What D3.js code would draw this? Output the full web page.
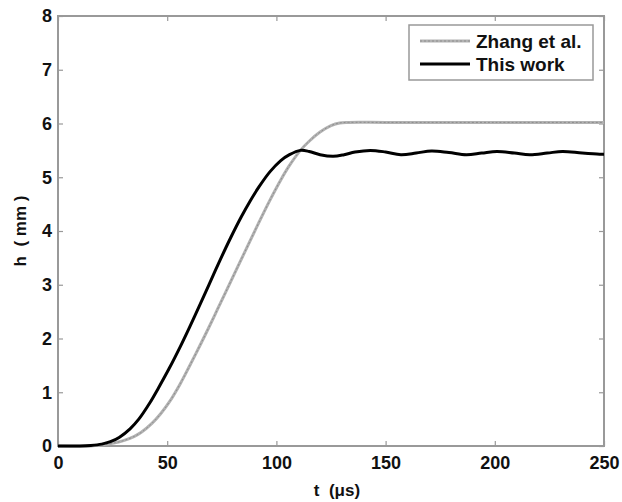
<!DOCTYPE html>
<html>
<head>
<meta charset="utf-8">
<script src="https://cdn.jsdelivr.net/npm/d3@7"></script>
<style>
  body { margin: 0; background: #fff; }
  svg { display: block; font-family: "Liberation Sans", Arial, sans-serif; font-weight: bold; }
</style>
</head>
<body>
<svg id="chart" width="622" height="502"></svg>
<script>
// Time (µs) and height (mm) for the two series
const zhangT = [0, 15, 20, 25, 30, 35, 38, 43, 47, 51, 56, 60, 65, 69, 73, 77, 82, 88, 92, 97, 102, 106, 111, 115, 120, 125, 129, 133, 150, 200, 250];
const zhangH = [0, 0, 0.02, 0.05, 0.1, 0.18, 0.25, 0.42, 0.6, 0.82, 1.16, 1.47, 1.87, 2.2, 2.54, 2.88, 3.31, 3.82, 4.16, 4.57, 4.95, 5.22, 5.5, 5.67, 5.84, 5.96, 6.01, 6.02, 6.02, 6.02, 6.02];

const workT = [0, 10, 15, 20, 24, 28, 33, 37, 42, 46, 51, 56, 60, 65, 69, 74, 79, 84, 88, 92, 97, 102, 106, 111, 115, 120, 126, 131, 136, 143, 150, 157, 164, 171, 179, 187, 194, 201, 209, 216, 224, 231, 240, 248, 250];
const workH = [0, 0, 0.01, 0.035, 0.08, 0.16, 0.32, 0.5, 0.8, 1.08, 1.45, 1.85, 2.19, 2.63, 2.99, 3.44, 3.87, 4.27, 4.56, 4.82, 5.1, 5.31, 5.42, 5.5, 5.48, 5.42, 5.39, 5.42, 5.47, 5.5, 5.47, 5.42, 5.45, 5.49, 5.46, 5.42, 5.45, 5.48, 5.45, 5.42, 5.45, 5.48, 5.45, 5.43, 5.43];

const xTicks = [0, 50, 100, 150, 200, 250];
const yTicks = [0, 1, 2, 3, 4, 5, 6, 7, 8];
const seriesNames = ["Zhang et al.", "This work"];

const svg = d3.select("#chart");
const plotLeft = 58, plotRight = 604, plotTop = 16, plotBottom = 446;

const x = d3.scaleLinear().domain([0, 250]).range([plotLeft, plotRight]);
const y = d3.scaleLinear().domain([0, 8]).range([plotBottom, plotTop]);

const axisColor = "#999";
const textColor = "#111";
const tickLen = 5;

// Frame
svg.append("rect")
  .attr("x", plotLeft).attr("y", plotTop)
  .attr("width", plotRight - plotLeft).attr("height", plotBottom - plotTop)
  .attr("fill", "none").attr("stroke", axisColor).attr("stroke-width", 2);

function styleAxis(g) {
  g.select(".domain").remove();
  g.selectAll(".tick line").attr("stroke", axisColor).attr("stroke-width", 1.2);
  g.selectAll(".tick text").attr("fill", textColor).attr("font-size", 18).attr("font-weight", "bold");
}

// Bottom axis (inward ticks)
svg.append("g").attr("transform", `translate(0,${plotBottom})`)
  .call(d3.axisBottom(x).tickValues(xTicks).tickSize(-tickLen).tickPadding(10))
  .call(styleAxis);

// Top axis ticks
svg.append("g").attr("transform", `translate(0,${plotTop})`)
  .call(d3.axisTop(x).tickValues(xTicks).tickSize(-tickLen).tickFormat(""))
  .call(styleAxis);

// Left axis
svg.append("g").attr("transform", `translate(${plotLeft},0)`)
  .call(d3.axisLeft(y).tickValues(yTicks).tickSize(-tickLen).tickPadding(6))
  .call(styleAxis);

// Right axis ticks
svg.append("g").attr("transform", `translate(${plotRight},0)`)
  .call(d3.axisRight(y).tickValues(yTicks).tickSize(-tickLen).tickFormat(""))
  .call(styleAxis);

// Curves
const line = d3.line()
  .x(d => x(d[0]))
  .y(d => y(d[1]))
  .curve(d3.curveCatmullRom.alpha(0.5));

const zhang = zhangT.map((t, i) => [t, zhangH[i]]);
const work = workT.map((t, i) => [t, workH[i]]);

// Zhang et al.: light gray line with a fine darker dash running through it
svg.append("path").datum(zhang)
  .attr("d", line).attr("fill", "none")
  .attr("stroke", "#b2b2b2").attr("stroke-width", 3);
svg.append("path").datum(zhang)
  .attr("d", line).attr("fill", "none")
  .attr("stroke", "#8e8e8e").attr("stroke-width", 1)
  .attr("stroke-dasharray", "2,2");

svg.append("path").datum(work)
  .attr("d", line).attr("fill", "none")
  .attr("stroke", "#000").attr("stroke-width", 3);

// Axis titles
svg.append("text")
  .attr("x", 337).attr("y", 496)
  .attr("text-anchor", "middle").attr("font-size", 17).attr("fill", textColor)
  .attr("xml:space", "preserve")
  .text("t  (\u03bcs)");

svg.append("text")
  .attr("transform", `translate(26,${(plotTop + plotBottom) / 2}) rotate(-90)`)
  .attr("text-anchor", "middle").attr("font-size", 17).attr("fill", textColor)
  .attr("xml:space", "preserve")
  .text("h  ( mm )");

// Legend
const lg = svg.append("g");
lg.append("rect")
  .attr("x", 409).attr("y", 25).attr("width", 184).attr("height", 55)
  .attr("fill", "#fff").attr("stroke", axisColor).attr("stroke-width", 1.5);

const legendStyles = [
  { color: "#b2b2b2", width: 3 },
  { color: "#000", width: 3 }
];
seriesNames.forEach((name, i) => {
  const ly = 41 + i * 23;
  lg.append("line")
    .attr("x1", 420).attr("x2", 470).attr("y1", ly).attr("y2", ly)
    .attr("stroke", legendStyles[i].color).attr("stroke-width", legendStyles[i].width);
  if (i === 0) {
    lg.append("line")
      .attr("x1", 420).attr("x2", 470).attr("y1", ly).attr("y2", ly)
      .attr("stroke", "#8e8e8e").attr("stroke-width", 1).attr("stroke-dasharray", "2,2");
  }
  lg.append("text")
    .attr("x", 476).attr("y", ly).attr("dy", "0.36em")
    .attr("font-size", 19).attr("fill", textColor)
    .text(name);
});
</script>
</body>
</html>
